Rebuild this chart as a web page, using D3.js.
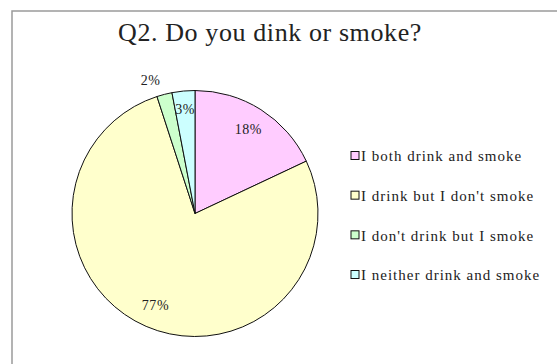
<!DOCTYPE html>
<html>
<head>
<meta charset="utf-8">
<script src="https://cdn.jsdelivr.net/npm/d3@7"></script>
<style>
  html, body { margin: 0; padding: 0; background: #fff; }
  svg { display: block; }
  text { font-family: "Liberation Serif", "DejaVu Serif", serif; fill: #222; }
</style>
</head>
<body>
<svg id="chart" width="557" height="364"></svg>
<script>
// Survey answers for Q2
const categories = [
  "I both drink and smoke",
  "I drink but I don't smoke",
  "I don't drink but I smoke",
  "I neither drink and smoke"
];
const percents = [18, 77, 2, 3];
const colors = ["#ffccff", "#ffffcc", "#ccffcc", "#ccffff"];
const title = "Q2. Do you dink or smoke?";

const W = 557, H = 364;
const cx = 195, cy = 213.5, R = 123;

const svg = d3.select("#chart");

// outer frame
svg.append("rect")
  .attr("x", 12).attr("y", 11)
  .attr("width", W).attr("height", H)
  .attr("fill", "#fff")
  .attr("stroke", "#9a9a9a")
  .attr("stroke-width", 1.5);

svg.append("text")
  .attr("x", 270).attr("y", 41)
  .attr("text-anchor", "middle")
  .attr("font-size", 26)
  .attr("letter-spacing", 0.6)
  .text(title);

const data = categories.map((c, i) => ({ cat: c, value: percents[i], color: colors[i] }));

const pie = d3.pie().value(d => d.value).sort(null);
const arcs = pie(data);
const arc = d3.arc().innerRadius(0).outerRadius(R);

const g = svg.append("g").attr("transform", `translate(${cx},${cy})`);

g.selectAll("path.slice")
  .data(arcs)
  .join("path")
  .attr("class", "slice")
  .attr("d", arc)
  .attr("fill", d => d.data.color)
  .attr("stroke", "#111")
  .attr("stroke-width", 1)
  .attr("stroke-linejoin", "round");

// percentage labels: large slices inside, the smallest one just outside the rim
const labelRadius = d => {
  if (d.data.value < 2.5) return R + 15;
  if (d.data.value < 10) return R - 18;
  return R * 0.81;
};
g.selectAll("text.pct")
  .data(arcs)
  .join("text")
  .attr("class", "pct")
  .attr("font-size", 14)
  .attr("letter-spacing", 0.6)
  .attr("text-anchor", "middle")
  .attr("dy", "0.35em")
  .attr("transform", d => {
    const a = (d.startAngle + d.endAngle) / 2;
    const r = labelRadius(d);
    const dx = d.data.value < 2.5 ? -10 : 0;
    return `translate(${r * Math.sin(a) + dx},${-r * Math.cos(a)})`;
  })
  .text(d => d.data.value + "%");

// legend
const legendY = d3.scalePoint().domain(categories).range([156, 275]);
const lg = svg.append("g");
const item = lg.selectAll("g.item")
  .data(data)
  .join("g")
  .attr("class", "item")
  .attr("transform", d => `translate(351,${legendY(d.cat)})`);
item.append("rect")
  .attr("x", 0).attr("y", -4.5)
  .attr("width", 8).attr("height", 8)
  .attr("fill", d => d.color)
  .attr("stroke", "#111")
  .attr("stroke-width", 1);
item.append("text")
  .attr("x", 10).attr("y", 0)
  .attr("dy", "0.35em")
  .attr("font-size", 15)
  .attr("letter-spacing", 1)
  .text(d => d.cat);
</script>
</body>
</html>
